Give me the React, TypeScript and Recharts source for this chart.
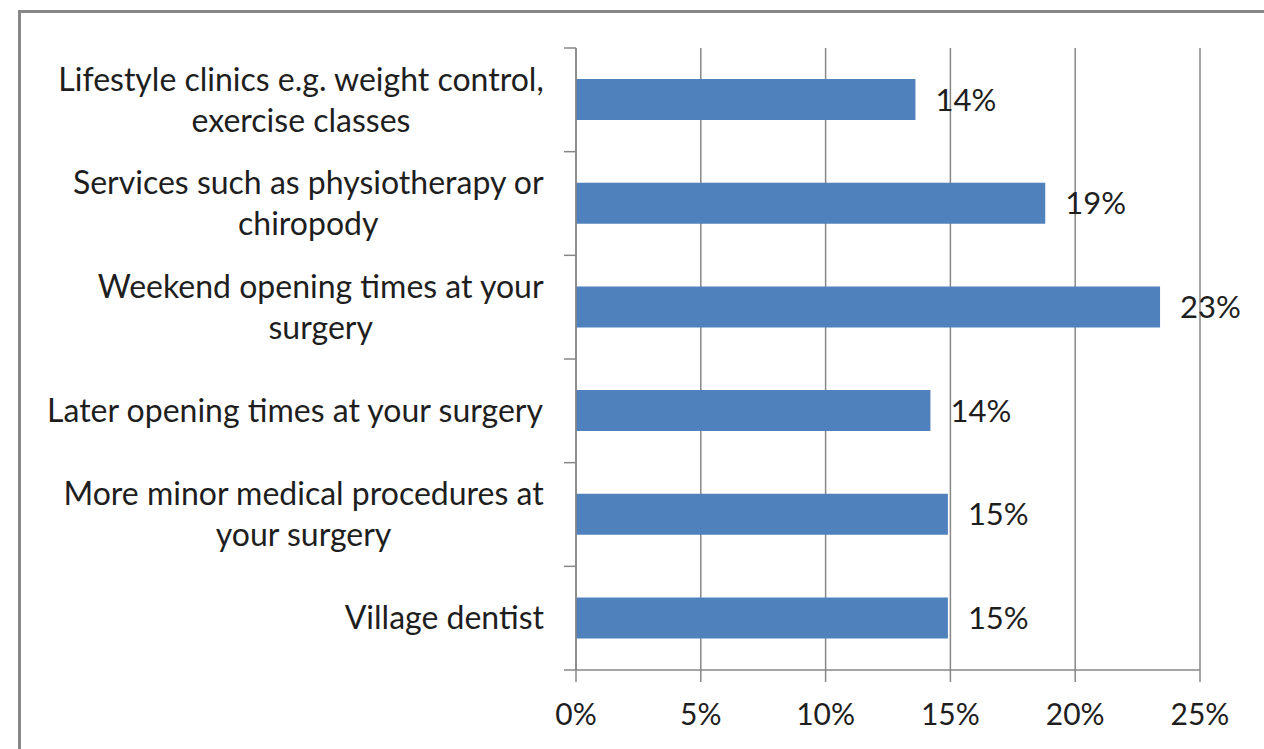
import { BarChart, Bar, XAxis, YAxis, CartesianGrid, LabelList } from 'recharts';

const categories = [
  'Lifestyle clinics e.g. weight control,\nexercise classes',
  'Services such as physiotherapy or\nchiropody',
  'Weekend opening times at your\nsurgery',
  'Later opening times at your surgery',
  'More minor medical procedures at\nyour surgery',
  'Village dentist',
];
const values = [13.6, 18.8, 23.4, 14.2, 14.9, 14.9];
const xTicks = [0, 5, 10, 15, 20, 25];

const data = categories.map((name, i) => ({ name, value: values[i] }));

const FONT = 'Lato, "Open Sans", sans-serif';
const FONT_SIZE = 30;
const CAT_SIZE = 32;
const AXIS = '#878787';
const TEXT = '#1e1e1e';

let ctx: CanvasRenderingContext2D | null = null;
function textWidth(s: string) {
  if (!ctx) ctx = document.createElement('canvas').getContext('2d');
  if (!ctx) return s.length * CAT_SIZE * 0.45;
  ctx.font = `${CAT_SIZE}px ${FONT}`;
  return ctx.measureText(s).width;
}

function CategoryTick(props: any) {
  const { x, y, payload, index, visibleTicksCount } = props;
  const half = payload?.offset ?? 52;
  const lines = String(payload.value).split('\n');
  const block = Math.max(...lines.map(textWidth));
  const cx = x - 32 - block / 2;
  const lh = 41;
  return (
    <g>
      <line x1={x - 12} x2={x} y1={y - half} y2={y - half} stroke={AXIS} strokeWidth={1.5} />
      {index === visibleTicksCount - 1 && (
        <line x1={x - 12} x2={x} y1={y + half} y2={y + half} stroke={AXIS} strokeWidth={1.5} />
      )}
      {lines.map((l, i) => (
        <text
          key={i}
          x={cx}
          y={y + (i - (lines.length - 1) / 2) * lh}
          dy="0.35em"
          textAnchor="middle"
          fontFamily={FONT}
          fontSize={CAT_SIZE}
          fill={TEXT}
        >
          {l}
        </text>
      ))}
    </g>
  );
}

export default function App() {
  return (
    <div style={{ position: 'absolute', left: 0, top: 0, width: 1264, height: 749, overflow: 'hidden', background: '#fff' }}>
      <div
        style={{
          position: 'absolute',
          left: 18,
          top: 10,
          width: 1400,
          height: 900,
          border: `3px solid ${AXIS}`,
        }}
      />
      <div style={{ position: 'absolute', left: 0, top: 0 }}>
        <BarChart
          width={1264}
          height={749}
          data={data}
          layout="vertical"
          margin={{ top: 48, right: 64, bottom: 44, left: 16 }}
          barCategoryGap="30%"
        >
          <CartesianGrid horizontal={false} stroke={AXIS} strokeWidth={1.5} />
          <XAxis
            type="number"
            domain={[0, 25]}
            ticks={xTicks}
            tickFormatter={(v) => `${v}%`}
            interval={0}
            height={35}
            tickSize={12}
            tickMargin={22}
            axisLine={{ stroke: AXIS, strokeWidth: 1.5 }}
            tickLine={{ stroke: AXIS, strokeWidth: 1.5 }}
            tick={{ fill: TEXT, fontSize: FONT_SIZE, fontFamily: FONT }}
          />
          <YAxis
            type="category"
            dataKey="name"
            width={560}
            tickSize={0}
            tickMargin={0}
            interval={0}
            axisLine={{ stroke: AXIS, strokeWidth: 1.5 }}
            tickLine={false}
            tick={<CategoryTick />}
          />
          <Bar dataKey="value" fill="#4F81BD" isAnimationActive={false}>
            <LabelList
              dataKey="value"
              position="right"
              offset={20}
              formatter={(v: any) => `${Math.round(Number(v))}%`}
              style={{ fill: TEXT, fontSize: 31, fontFamily: FONT }}
            />
          </Bar>
        </BarChart>
      </div>
    </div>
  );
}
